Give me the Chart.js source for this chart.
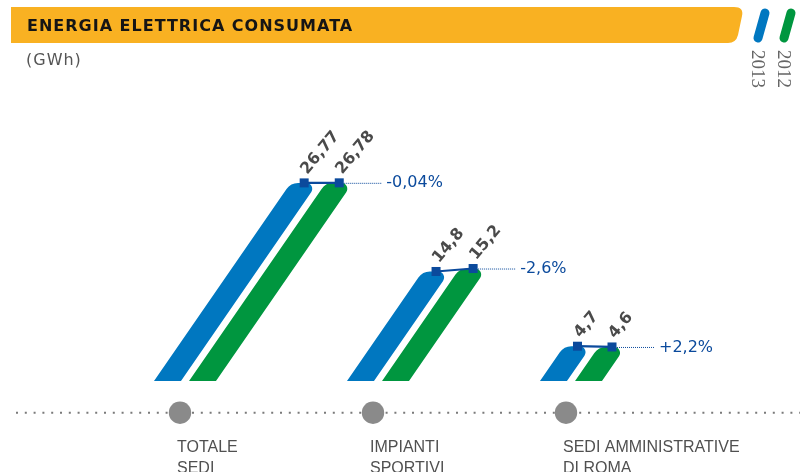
<!DOCTYPE html>
<html lang="it">

<head>
  <meta charset="UTF-8">
  <title>Energia elettrica consumata</title>
  <script src="https://cdn.jsdelivr.net/npm/chart.js"></script>
  <style>
    html, body { margin: 0; padding: 0; background: #fff; overflow: hidden; }
  </style>
</head>

<body>
  <canvas id="consumiChart" width="805" height="472"></canvas>

  <script>
    // dati (GWh)
    const titolo = 'ENERGIA ELETTRICA CONSUMATA';
    const unita = '(GWh)';
    const categorie = [['TOTALE', 'SEDI'], ['IMPIANTI', 'SPORTIVI'], ['SEDI AMMINISTRATIVE', 'DI ROMA']];
    const anni = ['2013', '2012'];
    const consumi2013 = [26.77, 14.8, 4.7];
    const consumi2012 = [26.78, 15.2, 4.6];
    const variazioni = ['-0,04%', '-2,6%', '+2,2%'];

    const BLU = '#0077c0';
    const VERDE = '#00963f';
    const BLU_SCURO = '#0b4a9c';
    const PENDENZA = 0.69; // spostamento orizzontale per pixel di altezza
    const SPOSTA = 5;

    const fmt = v => String(v).replace('.', ',');

    // disegna barre inclinate, legenda, asse puntinato ed etichette
    const decorazioni = {
      id: 'decorazioni',
      beforeDraw(chart) {
        const ctx = chart.ctx;
        const x = chart.scales.x;
        ctx.save();

        // fascia del titolo
        ctx.fillStyle = '#f9b122';
        ctx.beginPath();
        ctx.moveTo(11, 7);
        ctx.lineTo(734, 7);
        ctx.quadraticCurveTo(744, 7, 742, 16);
        ctx.lineTo(738, 35);
        ctx.quadraticCurveTo(736, 43, 728, 43);
        ctx.lineTo(11, 43);
        ctx.closePath();
        ctx.fill();

        ctx.fillStyle = '#151515';
        ctx.font = 'bold 16px "DejaVu Sans"';
        ctx.letterSpacing = '1px';
        ctx.textBaseline = 'alphabetic';
        ctx.fillText(titolo, 27, 30.5);

        ctx.fillStyle = '#555';
        ctx.font = '16px "DejaVu Sans"';
        ctx.letterSpacing = '1px';
        ctx.fillText(unita, 26, 65);
        ctx.letterSpacing = '0px';

        // legenda
        chart.data.datasets.forEach((ds, i) => {
          const ox = 763 + i * 26;
          ctx.strokeStyle = ds.backgroundColor;
          ctx.lineWidth = 9;
          ctx.lineCap = 'round';
          ctx.beginPath();
          ctx.moveTo(ox + 2, 13);
          ctx.lineTo(ox - 5, 38);
          ctx.stroke();

          ctx.save();
          ctx.translate(ox - 11, 50);
          ctx.rotate(Math.PI / 2);
          ctx.fillStyle = '#666';
          ctx.font = '19px "Liberation Serif"';
          ctx.textBaseline = 'alphabetic';
          ctx.fillText(ds.label, 0, 0);
          ctx.restore();
        });

        // asse puntinato con i cerchi
        const yAsse = 412.7;
        ctx.strokeStyle = '#7a7a7a';
        ctx.lineWidth = 2;
        ctx.lineCap = 'butt';
        ctx.setLineDash([2, 6.8]);
        ctx.beginPath();
        ctx.moveTo(16, yAsse);
        ctx.lineTo(800, yAsse);
        ctx.stroke();
        ctx.setLineDash([]);

        ctx.fillStyle = '#8a8a8a';
        categorie.forEach((c, i) => {
          ctx.beginPath();
          ctx.arc(x.getPixelForValue(i), yAsse, 11.2, 0, Math.PI * 2);
          ctx.fill();
        });
        ctx.restore();
      },

      beforeDatasetsDraw(chart) {
        const ctx = chart.ctx;
        ctx.save();
        chart.data.datasets.forEach((ds, di) => {
          const meta = chart.getDatasetMeta(di);
          ctx.fillStyle = ds.backgroundColor;
          meta.data.forEach(bar => {
            const h = bar.base - bar.y;
            const s = h * PENDENZA;
            const w = bar.width;
            const bx = bar.x + SPOSTA;
            const BL = [bx - w / 2, bar.base];
            const BR = [bx + w / 2, bar.base];
            const TR = [bx + w / 2 + s, bar.y];
            const TL = [bx - w / 2 + s, bar.y];
            ctx.beginPath();
            ctx.moveTo(BL[0], BL[1]);
            ctx.lineTo(BR[0], BR[1]);
            ctx.arcTo(TR[0], TR[1], TL[0], TL[1], 6);
            ctx.arcTo(TL[0], TL[1], BL[0], BL[1], 14);
            ctx.closePath();
            ctx.fill();
          });
        });
        ctx.restore();
        return false;
      },

      afterDraw(chart) {
        const ctx = chart.ctx;
        const punte = chart.data.datasets.map((ds, di) =>
          chart.getDatasetMeta(di).data.map(bar => ({
            x: bar.x + SPOSTA + (bar.base - bar.y) * PENDENZA,
            y: bar.y
          }))
        );
        ctx.save();
        categorie.forEach((c, i) => {
          const a = punte[0][i];
          const b = punte[1][i];

          // linea di collegamento
          ctx.strokeStyle = BLU_SCURO;
          ctx.lineWidth = 2.2;
          ctx.beginPath();
          ctx.moveTo(a.x, a.y);
          ctx.lineTo(b.x, b.y);
          ctx.stroke();

          // linea puntinata verso la variazione
          ctx.lineWidth = 1;
          ctx.setLineDash([1, 1]);
          ctx.beginPath();
          ctx.moveTo(b.x + 5, b.y + 0.5);
          ctx.lineTo(b.x + 43, b.y + 0.5);
          ctx.stroke();
          ctx.setLineDash([]);

          // marcatori
          ctx.fillStyle = BLU_SCURO;
          [a, b].forEach(p => ctx.fillRect(p.x - 4.5, p.y - 4.5, 9, 9));

          // variazione percentuale
          ctx.font = '16px "DejaVu Sans"';
          ctx.textBaseline = 'middle';
          ctx.textAlign = 'left';
          ctx.fillText(variazioni[i], b.x + 47, b.y + 0.5);
        });

        // valori ruotati
        ctx.fillStyle = '#4a4a4a';
        ctx.font = 'bold 16px "DejaVu Sans"';
        ctx.textBaseline = 'alphabetic';
        chart.data.datasets.forEach((ds, di) => {
          ds.data.forEach((v, i) => {
            const p = punte[di][i];
            ctx.save();
            ctx.translate(p.x + 3, p.y - 8);
            ctx.rotate(-50 * Math.PI / 180);
            ctx.fillText(fmt(v), 0, 0);
            ctx.restore();
          });
        });
        ctx.restore();
      }
    };

    const ctx = document.getElementById('consumiChart').getContext('2d');
    new Chart(ctx, {
      type: 'bar',
      data: {
        labels: categorie,
        datasets: [
          { label: anni[0], data: consumi2013, backgroundColor: BLU },
          { label: anni[1], data: consumi2012, backgroundColor: VERDE }
        ]
      },
      options: {
        responsive: false,
        animation: false,
        events: [],
        categoryPercentage: 0.363,
        barPercentage: 0.77,
        layout: { padding: { top: 159, left: 83.5, right: 142.5, bottom: 0 } },
        plugins: {
          legend: { display: false },
          title: { display: false },
          tooltip: { enabled: false }
        },
        scales: {
          x: {
            grid: { display: false },
            border: { display: false },
            ticks: {
              align: 'start',
              padding: 48,
              labelOffset: -3,
              maxRotation: 0,
              minRotation: 0,
              autoSkip: false,
              color: '#505050',
              font: { family: '"Liberation Sans"', size: 16, lineHeight: 1.3 }
            },
            afterFit(scale) {
              scale.height = 91;
              scale.paddingLeft = 0;
              scale.paddingRight = 0;
            }
          },
          y: {
            display: false,
            min: 0,
            max: 30
          }
        }
      },
      plugins: [decorazioni]
    });
  </script>
</body>

</html>
